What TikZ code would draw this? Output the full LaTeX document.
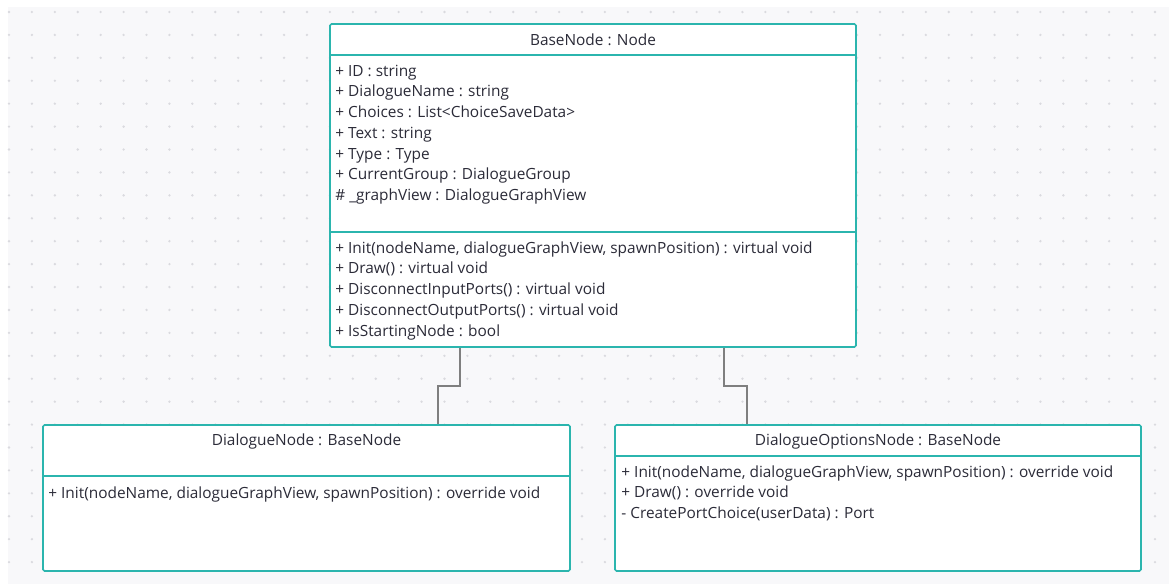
\documentclass[tikz,border=0pt]{standalone}
\usepackage{fontspec}
\setmainfont{Open Sans}
\usetikzlibrary{positioning,calc}
\definecolor{umlteal}{HTML}{2BB5AE}
\definecolor{linkgray}{HTML}{7F7F7F}
\definecolor{textdark}{HTML}{2B2B38}
\definecolor{canvas}{HTML}{F8F8FA}
\definecolor{griddot}{HTML}{DADADF}
\newcommand{\umlfont}{\fontsize{15.4}{18}\selectfont}

\begin{document}
\begin{tikzpicture}[x=1pt,y=-1pt,
 classbox/.style={draw=umlteal,line width=1.6pt,rounded corners=1.5pt,fill=white,inner sep=0pt},
 link/.style={draw=linkgray,line width=1.8pt},
 member/.style={anchor=base west,inner sep=0pt,font=\umlfont,text=textdark},
 title/.style={anchor=base,inner sep=0pt,font=\umlfont,text=textdark}]
\useasboundingbox (0,0) rectangle (1169,584);
% dotted canvas
\fill[canvas] (8,7) rectangle (1169,584);
\foreach \c in {0,...,50}
  \foreach \r in {0,...,24}
    \fill[griddot] (9+22.92*\c,12+22.92*\r) circle[radius=1.3];

% classes
\node[classbox,minimum width=526pt,minimum height=323pt] (base) at (593,185.5) {};
\node[classbox,minimum width=527pt,minimum height=146pt] (dlg) at (306.5,498) {};
\node[classbox,minimum width=526pt,minimum height=146pt] (opt) at (878,498) {};

% compartments
\draw[umlteal,line width=1.6pt] ([yshift=-32pt]base.north west) -- ([yshift=-32pt]base.north east);
\draw[umlteal,line width=1.6pt] ([yshift=-209pt]base.north west) -- ([yshift=-209pt]base.north east);
\draw[umlteal,line width=1.6pt] ([yshift=-52pt]dlg.north west) -- ([yshift=-52pt]dlg.north east);
\draw[umlteal,line width=1.6pt] ([yshift=-32pt]opt.north west) -- ([yshift=-32pt]opt.north east);

% titles
\node[title] (baset) at ([yshift=-22pt]base.north) {BaseNode : Node};
\node[title] (dlgt) at ([yshift=-21pt]dlg.north) {DialogueNode : BaseNode};
\node[title] (optt) at ([yshift=-21pt]opt.north) {DialogueOptionsNode : BaseNode};

% members
\foreach \t [count=\i] in {{+ ID : string},{+ DialogueName : string},{+ Choices : List<ChoiceSaveData>},
  {+ Text : string},{+ Type : Type},{+ CurrentGroup : DialogueGroup},{\# \_graphView : DialogueGraphView}}
  \node[member] at ([xshift=6pt,yshift={-53pt-20.7pt*(\i-1)}]base.north west) {\t};
\foreach \t [count=\i] in {{+ Init(nodeName, dialogueGraphView, spawnPosition) : virtual void},
  {+ Draw() : virtual void},{+ DisconnectInputPorts() : virtual void},
  {+ DisconnectOutputPorts() : virtual void},{+ IsStartingNode : bool}}
  \node[member] at ([xshift=6pt,yshift={-230pt-20.7pt*(\i-1)}]base.north west) {\t};
\node[member] at ([xshift=6pt,yshift=-74pt]dlg.north west) {+ Init(nodeName, dialogueGraphView, spawnPosition) : override void};
\foreach \t [count=\i] in {{+ Init(nodeName, dialogueGraphView, spawnPosition) : override void},
  {+ Draw() : override void},{- CreatePortChoice(userData) : Port}}
  \node[member] at ([xshift=7pt,yshift={-53pt-20.7pt*(\i-1)}]opt.north west) {\t};

% inheritance links
\draw[link] ([xshift=-133pt]base.south) -- ++(0,38) -| ([xshift=131.5pt]dlg.north);
\draw[link] ([xshift=131pt]base.south) -- ++(0,38) -| ([xshift=-131pt]opt.north);
\end{tikzpicture}
\end{document}
